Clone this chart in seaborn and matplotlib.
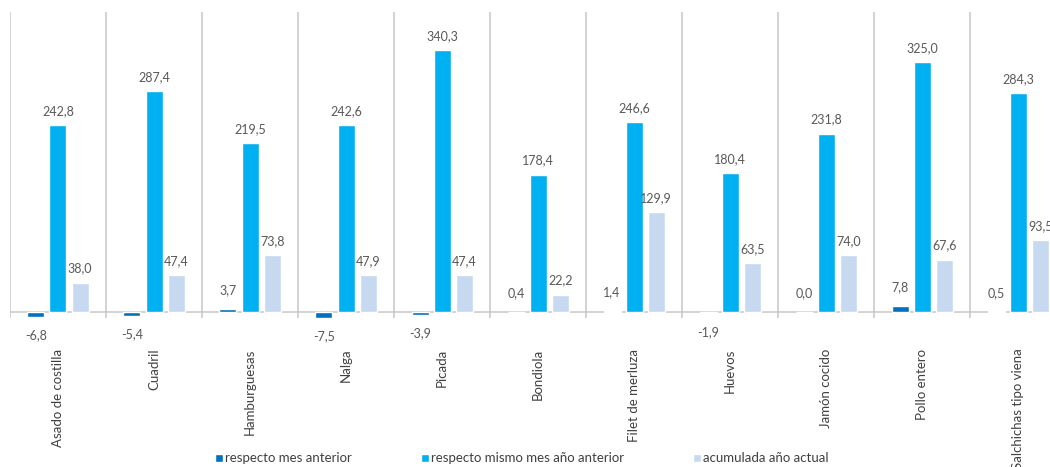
import matplotlib
matplotlib.use("Agg")
import matplotlib.pyplot as plt
import seaborn as sns
import pandas as pd

categories = ['Asado de costilla', 'Cuadril', 'Hamburguesas', 'Nalga', 'Picada', 'Bondiola',
              'Filet de merluza', 'Huevos', 'Jamón cocido', 'Pollo entero', 'Salchichas tipo viena']
mes_anterior = [-6.8, -5.4, 3.7, -7.5, -3.9, 0.4, 1.4, -1.9, 0.0, 7.8, 0.5]
mismo_mes_anio_anterior = [242.8, 287.4, 219.5, 242.6, 340.3, 178.4, 246.6, 180.4, 231.8, 325.0, 284.3]
acumulada_anio = [38.0, 47.4, 73.8, 47.9, 47.4, 22.2, 129.9, 63.5, 74.0, 67.6, 93.5]
series_names = ['respecto mes anterior', 'respecto mismo mes año anterior', 'acumulada año actual']
colors = ['#0070C0', '#00B0F0', '#C6D9F0']

sns.set_style('white')
plt.rcParams['font.family'] = ['Lato', 'DejaVu Sans']

df = pd.DataFrame({
    'cat': categories * 3,
    'serie': [series_names[0]] * 11 + [series_names[1]] * 11 + [series_names[2]] * 11,
    'valor': mes_anterior + mismo_mes_anio_anterior + acumulada_anio,
})

fig = plt.figure(figsize=(10.5, 4.67), dpi=100)
ax = fig.add_axes([0.0095, 0.319, 1.006, 0.655])

sns.barplot(data=df, x='cat', y='valor', hue='serie', hue_order=series_names,
            palette=colors, width=0.69, gap=0.23, saturation=1, ax=ax, legend=True)

ax.set_ylim(-8, 390)
ax.set_xlim(-0.5, 10.5)

# separators between categories
for k in range(12):
    ax.axvline(k - 0.5, color='#C8C8C8', lw=1.1, zorder=0)
ax.axhline(0, color='#C8C8C8', lw=1.1, zorder=0)

# data labels
for cont, vals in zip(ax.containers, [mes_anterior, mismo_mes_anio_anterior, acumulada_anio]):
    labels = [f'{v:.1f}'.replace('.', ',') for v in vals]
    pad = 9 if min(vals) < 0 else 6
    ax.bar_label(cont, labels=labels, padding=pad, fontsize=9, color='#595959')

for s in ax.spines.values():
    s.set_visible(False)
ax.set_yticks([])
ax.set_xlabel('')
ax.set_ylabel('')
ax.tick_params(axis='x', length=0, pad=22)
ax.set_xticks(range(len(categories)))
ax.set_xticklabels(categories, rotation=90, fontsize=9.5, color='#404040')

handles, labels = ax.get_legend_handles_labels()
ax.legend_.remove()
fig.legend(handles, labels, loc='lower center', bbox_to_anchor=(0.497, -0.02), ncol=3,
           frameon=False, fontsize=9.5, handlelength=0.6, handleheight=0.6,
           handletextpad=0.2, columnspacing=5.2, labelcolor='#404040')

fig.savefig('out.png', dpi=100)
